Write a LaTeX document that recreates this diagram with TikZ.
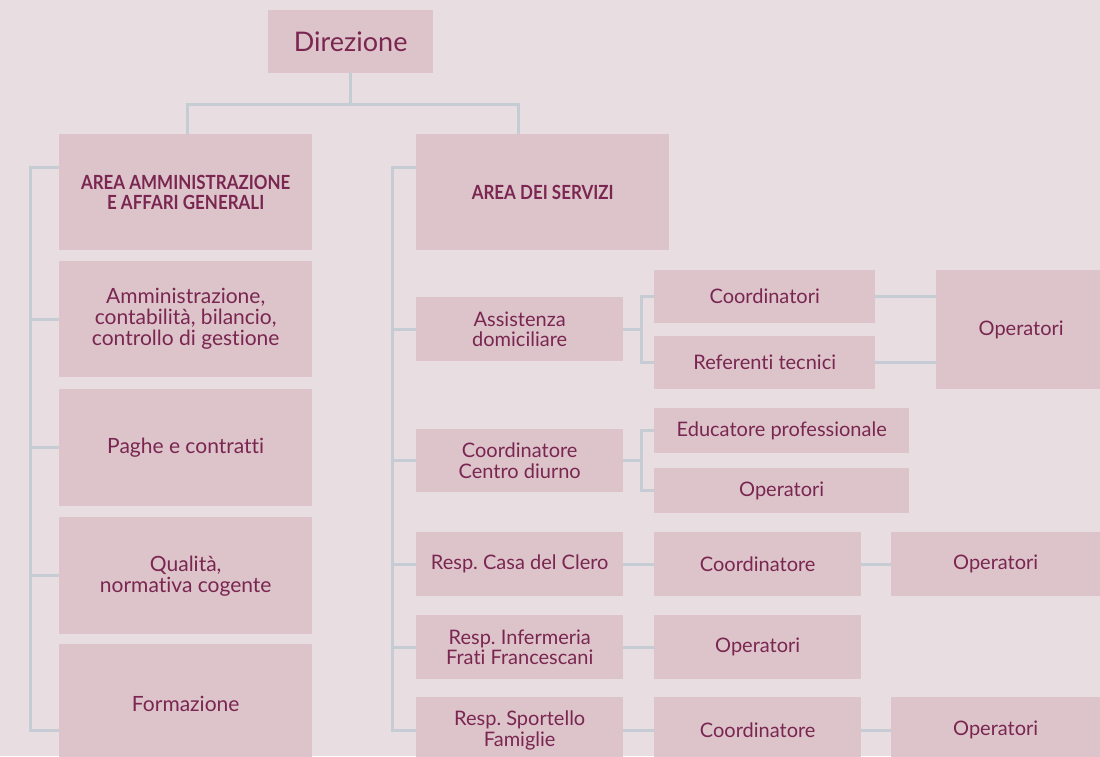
\documentclass[tikz,border=0pt]{standalone}
\usepackage{fontspec}
\setmainfont{Lato}[Ligatures=NoCommon]
\frenchspacing
\usetikzlibrary{calc}
\definecolor{bg}{HTML}{E8DEE2}
\definecolor{boxc}{HTML}{DCC4CA}
\definecolor{txt}{HTML}{7A2650}
\definecolor{ln}{HTML}{C5CCD4}
\tikzset{
  box/.style={fill=boxc, draw=none, inner sep=0pt, anchor=north west, align=center, text=txt, font=\fontsize{21}{21}\selectfont},
  rbox/.style={box, font=\fontsize{20}{20.5}\selectfont},
  head/.style={box, font=\fontsize{19.5}{20}\selectfont\bfseries\addfontfeature{FakeStretch=0.87}},
  conn/.style={draw=ln, line width=3pt},
}
\begin{document}
\begin{tikzpicture}[x=1pt,y=-1pt]
\useasboundingbox (0,0) rectangle (1100,756);
\clip (0,0) rectangle (1100,756);
\fill[bg] (0,0) rectangle (1100,756);
% top
\node[box, minimum width=165pt, minimum height=63pt, font=\fontsize{27}{27}\selectfont] (dir) at (268,10) {\raisebox{-2pt}{Direzione}};
\node[head, minimum width=253pt, minimum height=116pt] (am) at (59,134) {AREA AMMINISTRAZIONE\\E AFFARI GENERALI};
\node[head, minimum width=253pt, minimum height=116pt] (as) at (416,134) {AREA DEI SERVIZI};
% left column
\node[box, minimum width=253pt, minimum height=116pt] (a1) at (59,261) {Amministrazione,\\contabilità, bilancio,\\controllo di gestione};
\node[box, minimum width=253pt, minimum height=117pt] (a2) at (59,389) {Paghe e contratti};
\node[box, minimum width=253pt, minimum height=117pt] (a3) at (59,517) {Qualità,\\normativa cogente};
\node[box, minimum width=253pt, minimum height=120pt] (fo) at (59,644) {Formazione};
% right column
\node[rbox, minimum width=207pt, minimum height=64pt] (ad) at (416,297) {Assistenza\\domiciliare};
\node[rbox, minimum width=221pt, minimum height=53pt] (co) at (654,270) {Coordinatori};
\node[rbox, minimum width=221pt, minimum height=53pt] (rt) at (654,336) {Referenti tecnici};
\node[rbox, minimum width=170pt, minimum height=119pt, text width=164pt] (op1) at (936,270) {Operatori};
\node[rbox, minimum width=207pt, minimum height=63pt] (ccd) at (416,429) {Coordinatore\\Centro diurno};
\node[rbox, minimum width=255pt, minimum height=45pt] (ed) at (654,408) {Educatore professionale};
\node[rbox, minimum width=255pt, minimum height=45pt] (op2) at (654,468) {Operatori};
\node[rbox, minimum width=207pt, minimum height=64pt] (casa) at (416,532) {Resp. Casa del Clero};
\node[rbox, minimum width=207pt, minimum height=64pt] (c1) at (654,532) {Coordinatore};
\node[rbox, minimum width=209pt, minimum height=64pt] (o3) at (891,532) {Operatori};
\node[rbox, minimum width=207pt, minimum height=64pt] (inf) at (416,615) {Resp. Infermeria\\Frati Francescani};
\node[rbox, minimum width=207pt, minimum height=64pt] (o4) at (654,615) {Operatori};
\node[rbox, minimum width=207pt, minimum height=66pt] (sp) at (416,697) {Resp. Sportello\\Famiglie};
\node[rbox, minimum width=207pt, minimum height=66pt] (c2) at (654,697) {Coordinatore};
\node[rbox, minimum width=209pt, minimum height=66pt] (o5) at (891,697) {Operatori};
% connectors: top
\coordinate (jl) at (187,104);
\coordinate (jr) at (518,104);
\draw[conn] (dir.south) -- (dir.south |- jl);
\draw[conn] (jl |- am.north) -- (jl) -- (jr) -- (jr |- as.north);
% left spine
\coordinate (L1) at (30,167);
\coordinate (L2) at (30,730);
\draw[conn] (am.west |- L1) -- (L1) -- (L2) -- (fo.west |- L2);
\draw[conn] (L1 |- a1.west) -- (a1.west);
\draw[conn] (L1 |- a2.west) -- (a2.west);
\draw[conn] (L1 |- a3.west) -- (a3.west);
% right spine
\coordinate (R1) at (392,167);
\coordinate (R2) at (392,730);
\draw[conn] (as.west |- R1) -- (R1) -- (R2) -- (sp.west |- R2);
\draw[conn] (R1 |- ad.west) -- (ad.west);
\draw[conn] (R1 |- ccd.west) -- (ccd.west);
\draw[conn] (R1 |- casa.west) -- (casa.west);
\draw[conn] (R1 |- inf.west) -- (inf.west);
% brackets
\coordinate (B) at (641,0);
\draw[conn] (ad.east) -- (ad.east -| B);
\draw[conn] (co.west) -- (co.west -| B) -- (rt.west -| B) -- (rt.west);
\draw[conn] (co.east) -- (op1.west |- co.east);
\draw[conn] (rt.east) -- (op1.west |- rt.east);
\draw[conn] (ccd.east) -- (ccd.east -| B);
\draw[conn] (ed.west) -- (ed.west -| B) -- (op2.west -| B) -- (op2.west);
% rows
\draw[conn] (casa.east) -- (c1.west);
\draw[conn] (c1.east) -- (o3.west);
\draw[conn] (inf.east) -- (o4.west);
\draw[conn] (sp.east) -- (c2.west);
\draw[conn] (c2.east) -- (o5.west);
\end{tikzpicture}
\end{document}
